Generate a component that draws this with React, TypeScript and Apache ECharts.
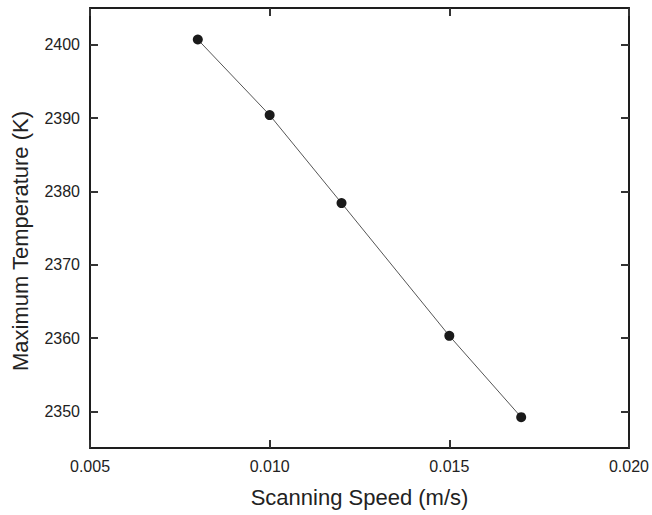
import React, { useEffect, useRef } from "react";
import * as echarts from "echarts";

const speeds = [0.008, 0.01, 0.012, 0.015, 0.017];
const maxTemps = [2400.7, 2390.4, 2378.4, 2360.3, 2349.2];
const yTicks = [2350, 2360, 2370, 2380, 2390, 2400];
const xTitle = "Scanning Speed (m/s)";
const yTitle = "Maximum Temperature (K)";

export default function App() {
  const ref = useRef<HTMLDivElement>(null);
  useEffect(() => {
    if (!ref.current) return;
    const chart = echarts.init(ref.current, undefined, { renderer: "svg" });
    const axisLine = { show: true, lineStyle: { color: "#1e1e1e", width: 2 } };
    const tick = { show: true, inside: true, length: 8, lineStyle: { color: "#333", width: 2 } };
    const font = "Liberation Sans, Arial, sans-serif";
    chart.setOption({
      animation: false,
      backgroundColor: "#fff",
      grid: { left: 90, right: 21, top: 8, bottom: 67 },
      xAxis: [
        {
          type: "value",
          min: 0.005,
          max: 0.02,
          interval: 0.005,
          position: "bottom",
          axisLine,
          axisTick: tick,
          axisLabel: {
            color: "#222",
            fontSize: 16,
            fontFamily: font,
            margin: 10,
            formatter: (v: number) => v.toFixed(3),
          },
          splitLine: { show: false },
          name: xTitle,
          nameLocation: "middle",
          nameGap: 38,
          nameTextStyle: { color: "#222", fontSize: 22, fontFamily: font },
        },
        {
          type: "value",
          min: 0.005,
          max: 0.02,
          interval: 0.005,
          position: "top",
          axisLine,
          axisTick: tick,
          axisLabel: { show: false },
          splitLine: { show: false },
        },
      ],
      yAxis: [
        {
          type: "value",
          min: 2345,
          max: 2405,
          position: "left",
          axisLine,
          axisTick: { ...tick, customValues: yTicks },
          axisLabel: {
            color: "#222",
            fontSize: 16,
            fontFamily: font,
            margin: 10,
            customValues: yTicks,
            formatter: (v: number) => String(v),
          },
          splitLine: { show: false },
        },
        {
          type: "value",
          min: 2345,
          max: 2405,
          position: "right",
          axisLine,
          axisTick: { ...tick, customValues: yTicks },
          axisLabel: { show: false },
          splitLine: { show: false },
        },
      ],
      graphic: [
        {
          type: "text",
          x: 20,
          y: 241,
          rotation: Math.PI / 2,
          style: {
            text: yTitle,
            fill: "#222",
            fontSize: 22,
            fontFamily: font,
            textAlign: "center",
            textVerticalAlign: "middle",
          },
        },
      ],
      series: [
        {
          type: "line",
          data: speeds.map((s, i) => [s, maxTemps[i]]),
          symbol: "circle",
          symbolSize: 10,
          itemStyle: { color: "#1a1a1a" },
          lineStyle: { color: "#555", width: 1 },
        },
      ],
    });
    return () => chart.dispose();
  }, []);
  return (
    <div
      ref={ref}
      style={{ position: "absolute", left: 0, top: 0, width: 652, height: 515 }}
    />
  );
}
